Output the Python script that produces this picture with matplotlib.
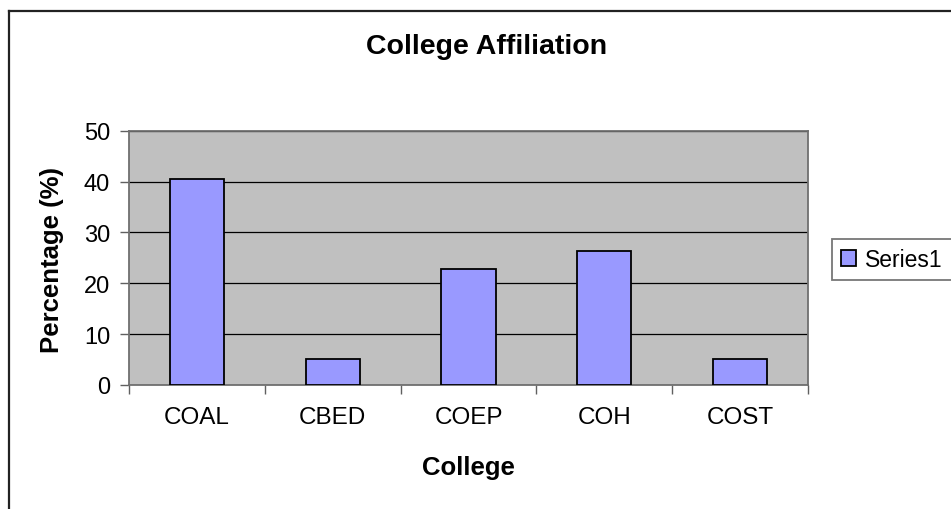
import matplotlib
matplotlib.use('Agg')
from matplotlib import pyplot as plt
from matplotlib.lines import Line2D
import numpy as np

# Dane
colleges = ['COAL', 'CBED', 'COEP', 'COH', 'COST']
percentages = [40.5, 5.2, 22.8, 26.4, 5.2]
series_name = 'Series1'

plt.rcParams['font.family'] = ['Liberation Sans', 'DejaVu Sans']

W, H = 951, 510
fig = plt.figure(figsize=(W / 100, H / 100), dpi=100)
fig.patch.set_facecolor('white')

# Obramowanie obszaru wykresu (prawa i dolna krawędź poza obrazem)
fig.add_artist(Line2D([8.5 / W, 8.5 / W], [0, 1 - 11.7 / H], color='#222222', lw=1.6))
fig.add_artist(Line2D([8.5 / W, 1], [1 - 11.7 / H, 1 - 11.7 / H], color='#222222', lw=1.6))

left, right, top, bottom = 129, 808, 131.7, 386
ax = fig.add_axes([left / W, 1 - bottom / H, (right - left) / W, (bottom - top) / H])
ax.set_facecolor('#C0C0C0')

x = np.arange(len(colleges))
ax.bar(x, percentages, width=0.4, color='#9999FF', edgecolor='black', linewidth=1.3,
       zorder=3, label=series_name)

ax.set_xlim(-0.5, len(colleges) - 0.5)
ax.set_ylim(0, 50)
ax.set_yticks(range(0, 51, 10))
ax.yaxis.grid(True, color='black', linewidth=0.9, zorder=1)
ax.set_axisbelow(True)

ax.set_xticks(x)
ax.set_xticklabels(colleges, fontsize=17.5)
ax.set_xticks(np.arange(-0.5, len(colleges), 1), minor=True)
ax.tick_params(axis='x', which='major', length=0, pad=15)
ax.tick_params(axis='x', which='minor', length=6.5, width=1, color='#606060', direction='out')
ax.tick_params(axis='y', labelsize=17, length=6.5, width=1, color='#606060', pad=7)

for side in ['top', 'right', 'left', 'bottom']:
    ax.spines[side].set_color('#707070')
    ax.spines[side].set_linewidth(1.3)

ax.set_xlabel('College', fontsize=18.5, fontweight='bold', va='center')
ax.xaxis.set_label_coords(468 / W, 1 - 468 / H, transform=fig.transFigure)
ax.set_ylabel('Percentage (%)', fontsize=18.5, fontweight='bold', va='center')
ax.yaxis.set_label_coords(52 / W, 1 - 260 / H, transform=fig.transFigure)

fig.text(487 / W, 1 - 47 / H, 'College Affiliation', fontsize=20.5, fontweight='bold',
         ha='center', va='center')

leg = fig.legend(loc='upper left', bbox_to_anchor=(831.7 / W, 1 - 240 / H), fontsize=16.5,
                 frameon=True, fancybox=False, edgecolor='#555555', borderpad=0.4,
                 handlelength=0.65, handleheight=0.65, handletextpad=0.4, borderaxespad=0)
leg.get_frame().set_linewidth(1.3)

fig.savefig('out.png', dpi=100)
